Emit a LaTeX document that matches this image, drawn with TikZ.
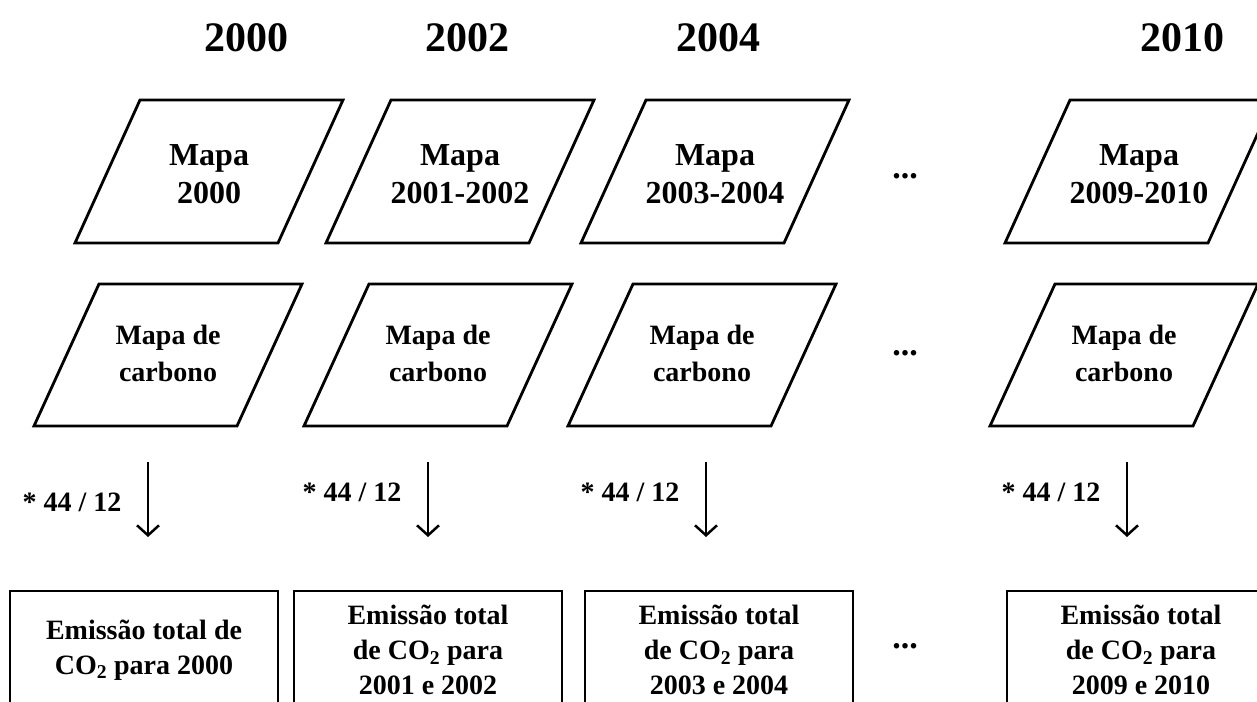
\documentclass[tikz,border=0pt]{standalone}
\usepackage{fontspec}
\setmainfont{Liberation Serif}
\usetikzlibrary{arrows.meta}

\tikzset{
  frame/.style={line width=2.8pt, line join=miter},
  yearlbl/.style={font=\bfseries\fontsize{42}{50}\selectfont},
  maplbl/.style={align=center, font=\bfseries\fontsize{32}{38}\selectfont},
  carblbl/.style={align=center, font=\bfseries\fontsize{28}{37}\selectfont},
  factor/.style={font=\bfseries\fontsize{28}{32}\selectfont},
  dots/.style={font=\bfseries\fontsize{34}{36}\selectfont},
  emisbox/.style={draw, line width=2.8pt, minimum width=268pt, minimum height=118pt,
    inner sep=0pt, align=center, font=\bfseries\fontsize{28}{35}\selectfont},
  conv/.style={line width=2.5pt, -{Straight Barb[length=10pt,width=22pt]}}
}

\begin{document}
\begin{tikzpicture}[x=1pt,y=-1pt]
\useasboundingbox (0,0) rectangle (1257,701);
\clip (0,0) rectangle (1257,701);
% Years on top
\node[yearlbl] (y2000) at (246,38) {2000};
\node[yearlbl] (y2002) at (467,38) {2002};
\node[yearlbl] (y2004) at (718,38) {2004};
\node[yearlbl] (y2010) at (1182,38) {2010};
% First row: maps
\foreach \n/\x/\t in {1/209/{Mapa\\2000}, 2/460/{Mapa\\2001-2002},
                      3/715/{Mapa\\2003-2004}, 4/1139/{Mapa\\2009-2010}}{
  \draw[frame] (\x-134,243) -- (\x+69,243) -- (\x+134,100) -- (\x-69,100) -- cycle;
  \node[maplbl] (map\n) at (\x,174) {\t};
}
% Second row: carbon maps
\foreach \n/\x in {1/168, 2/438, 3/702, 4/1124}{
  \draw[frame] (\x-134,426) -- (\x+69,426) -- (\x+134,284) -- (\x-69,284) -- cycle;
  \node[carblbl] (carb\n) at (\x,353) {Mapa de\\carbono};
}
% Conversion arrows
\foreach \n/\x/\y in {1/148/502, 2/428/492, 3/706/492, 4/1127/492}{
  \coordinate (a\n) at (\x,462);
  \coordinate (b\n) at (\x,537);
  \draw[conv] (a\n) -- (b\n);
  \node[factor] (fac\n) at (\x-76,\y) {* 44 / 12};
}
% Bottom row: emissions
\node[emisbox] (emis1) at (144,650) {Emissão total de\\CO\textsubscript{2} para 2000};
\node[emisbox] (emis2) at (428,650) {Emissão total\\de CO\textsubscript{2} para\\2001 e 2002};
\node[emisbox] (emis3) at (719,650) {Emissão total\\de CO\textsubscript{2} para\\2003 e 2004};
\node[emisbox] (emis4) at (1141,650) {Emissão total\\de CO\textsubscript{2} para\\2009 e 2010};
% Ellipses
\node[dots] (dots1) at (905,176) {...};
\node[dots] (dots2) at (905,353) {...};
\node[dots] (dots3) at (905,646) {...};
\end{tikzpicture}
\end{document}
